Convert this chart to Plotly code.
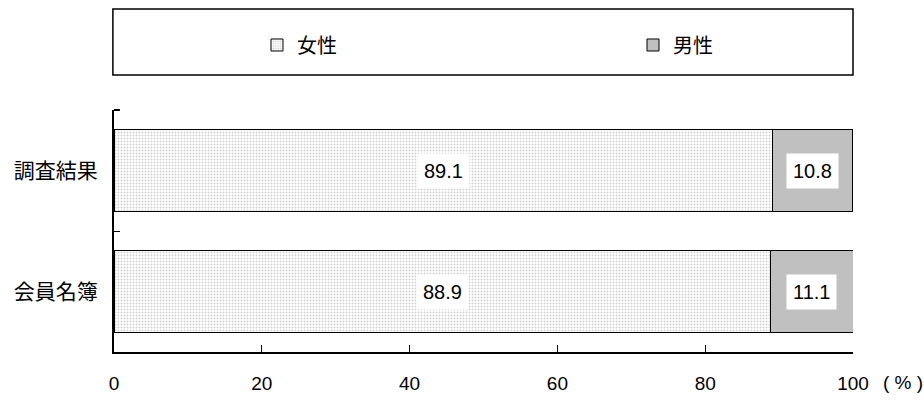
import plotly.graph_objects as go

categories = ["調査結果", "会員名簿"]
female = [89.1, 88.9]
male = [10.8, 11.1]
series_names = ["女性", "男性"]
x_ticks = [0, 20, 40, 60, 80, 100]

FONT = "Liberation Sans, Arial, Noto Sans CJK JP, sans-serif"
JP = "Noto Sans CJK JP, sans-serif"

fig = go.Figure()
fig.add_trace(go.Bar(
    y=categories, x=female, orientation="h", name=series_names[0],
    width=0.68, legend="legend",
    marker=dict(color="white", line=dict(color="black", width=1),
                pattern=dict(shape=".", fgcolor="#a0a0a0", bgcolor="#ffffff", size=3, solidity=0.3)),
    hoverinfo="skip",
))
fig.add_trace(go.Bar(
    y=categories, x=male, orientation="h", name=series_names[1],
    width=0.68, legend="legend2",
    marker=dict(color="#c0c0c0", line=dict(color="black", width=1)),
    hoverinfo="skip",
))

# value labels with white background
for cat, f, m in zip(categories, female, male):
    fig.add_annotation(x=f / 2, y=cat, text=f"{f:.1f}", showarrow=False,
                       bgcolor="white", borderpad=6, font=dict(family=FONT, size=20, color="black"))
    fig.add_annotation(x=f + m / 2, y=cat, text=f"{m:.1f}", showarrow=False,
                       bgcolor="white", borderpad=6, font=dict(family=FONT, size=20, color="black"))

fig.add_annotation(x=1.0, y=0, xref="paper", yref="paper", xanchor="left", yanchor="top",
                   xshift=28, yshift=-18, text="( % )", showarrow=False,
                   font=dict(family=FONT, size=19, color="black"))

# legend frame
fig.add_shape(type="rect", xref="paper", yref="paper", x0=-0.0015, x1=1.0, y0=1.1446, y1=1.417,
              line=dict(color="black", width=1.5), fillcolor="rgba(0,0,0,0)")
# top boundary tick of the category axis
fig.add_shape(type="line", xref="paper", yref="paper", x0=0, x1=0.008, y0=1, y1=1,
              line=dict(color="black", width=2))

leg_common = dict(orientation="h", y=1.2686, xanchor="left", yanchor="middle",
                  font=dict(family=JP, size=20, color="black"), bgcolor="rgba(0,0,0,0)")

fig.update_layout(
    barmode="stack",
    width=924, height=400,
    margin=dict(l=114, r=71, t=110, b=48, autoexpand=False),
    paper_bgcolor="white", plot_bgcolor="white",
    font=dict(family=FONT, size=19, color="black"),
    showlegend=True,
    legend=dict(x=0.1935, **leg_common),
    legend2=dict(x=0.7023, **leg_common),
    xaxis=dict(range=[0, 100], tickvals=x_ticks, ticks="inside", ticklen=7, tickcolor="black",
               showline=True, linecolor="black", linewidth=2, showgrid=False, zeroline=False,
               automargin=False,
               ticklabelstandoff=13, tickfont=dict(family=FONT, size=19)),
    yaxis=dict(autorange="reversed", ticks="inside", tickson="boundaries", ticklen=6, tickcolor="black",
               showline=True, linecolor="black", linewidth=2, showgrid=False, automargin=False,
               tickfont=dict(family=JP, size=21), ticklabelstandoff=10),
)

fig.write_html("out.html", config={"displayModeBar": False},
               post_script="document.body.style.margin='0';document.body.style.padding='0';")
